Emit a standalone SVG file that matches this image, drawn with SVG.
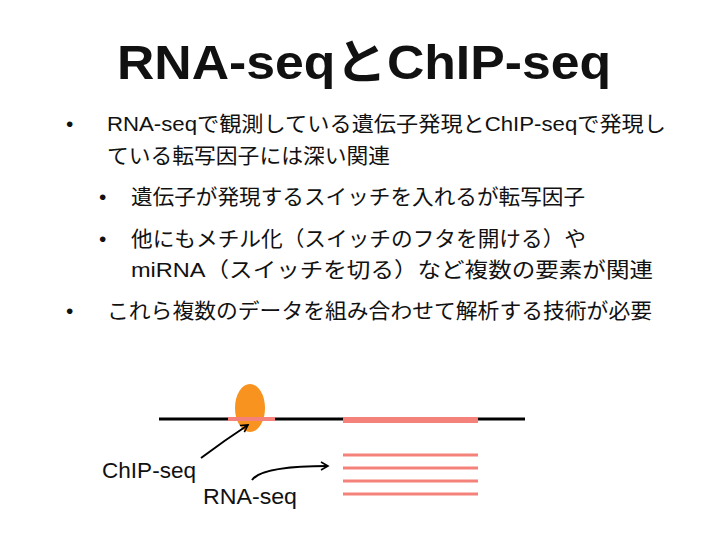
<svg xmlns="http://www.w3.org/2000/svg" width="728" height="546" viewBox="0 0 728 546">
<style>
text{font-family:"Liberation Sans","Noto Sans CJK JP",sans-serif;fill:#111}
.b{font-size:21px}
.p{stroke:#f4827a;fill:none}
.a{stroke:#000;stroke-width:2;fill:none}
</style>
<defs><marker id="ar" markerWidth="10" markerHeight="10" refX="8" refY="5" orient="auto" markerUnits="userSpaceOnUse"><path d="M1,1 L8,5 L1,9" fill="none" stroke="#000" stroke-width="1.6"/></marker></defs>
<rect width="728" height="546" fill="#fff"/>
<text x="117" y="79" font-size="48" font-weight="bold" textLength="494" lengthAdjust="spacingAndGlyphs">RNA-seqとChIP-seq</text>
<g id="bullets">
<text x="66" y="131" class="b">•</text>
<text x="107" y="131" class="b" textLength="559" lengthAdjust="spacingAndGlyphs">RNA-seqで観測している遺伝子発現とChIP-seqで発現し</text>
<text x="107" y="163" class="b" textLength="283" lengthAdjust="spacingAndGlyphs">ている転写因子には深い関連</text>
<text x="99" y="204" class="b">•</text>
<text x="131" y="204" class="b" textLength="454" lengthAdjust="spacingAndGlyphs">遺伝子が発現するスイッチを入れるが転写因子</text>
<text x="99" y="246" class="b">•</text>
<text x="131" y="246" class="b" textLength="455" lengthAdjust="spacingAndGlyphs">他にもメチル化（スイッチのフタを開ける）や</text>
<text x="131" y="277" class="b" textLength="522" lengthAdjust="spacingAndGlyphs">miRNA（スイッチを切る）など複数の要素が関連</text>
<text x="66" y="318" class="b">•</text>
<text x="107" y="318" class="b" textLength="545" lengthAdjust="spacingAndGlyphs">これら複数のデータを組み合わせて解析する技術が必要</text>
</g>
<g id="gene">
<line x1="159" y1="419" x2="525" y2="419" stroke="#000" stroke-width="3"/>
<ellipse id="tf" cx="250" cy="408" rx="15" ry="24" fill="#f7931e"/>
<line class="p" x1="228" y1="419" x2="275" y2="419" stroke-width="4"/>
<line class="p" x1="343" y1="420" x2="478" y2="420" stroke-width="6"/>
</g>
<g id="reads" class="p" stroke-width="3">
<line x1="343" y1="455" x2="478" y2="455"/>
<line x1="343" y1="468" x2="478" y2="468"/>
<line x1="343" y1="481" x2="478" y2="481"/>
<line x1="343" y1="494" x2="478" y2="494"/>
</g>
<g id="connectors">
<path class="a" d="M201,458 Q225,440 248,425" marker-end="url(#ar)"/>
<path class="a" d="M252,480 Q262,466 328,466" marker-end="url(#ar)"/>
</g>
<text x="102" y="478" font-size="22" textLength="94" lengthAdjust="spacingAndGlyphs">ChIP-seq</text>
<text x="203" y="504" font-size="22" textLength="94" lengthAdjust="spacingAndGlyphs">RNA-seq</text>
</svg>
